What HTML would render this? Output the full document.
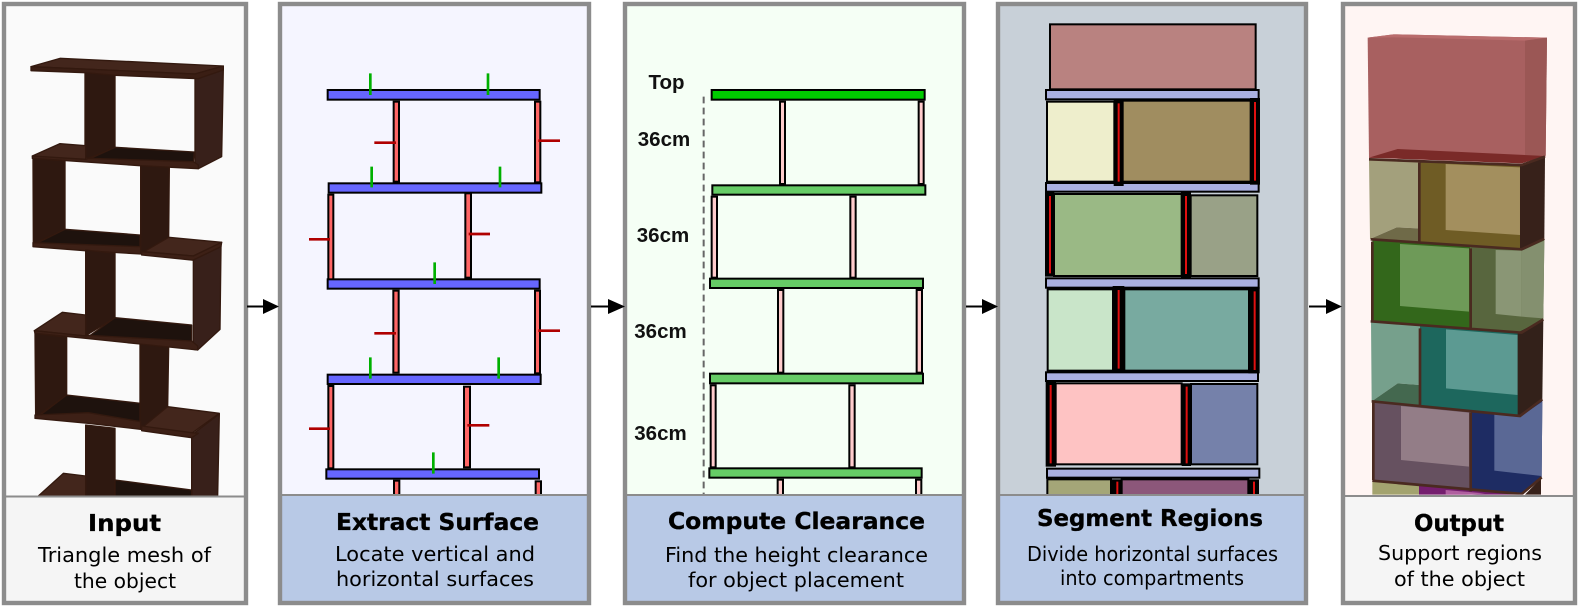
<!DOCTYPE html>
<html><head><meta charset="utf-8"><style>
html,body{margin:0;padding:0;background:#fff}
svg{display:block}
text{font-family:"DejaVu Sans","Liberation Sans",sans-serif;fill:#000}
.t{font-weight:bold;font-size:23.5px;stroke:#000;stroke-width:.35px}
.s{font-size:20px}
.l{font-family:"Liberation Sans",sans-serif;font-weight:bold;font-size:20.5px;fill:#111}
.p1 polygon{stroke:#33190f;stroke-width:4;stroke-linejoin:round}
</style></head><body>
<svg width="1578" height="608" viewBox="0 0 1578 608" xmlns="http://www.w3.org/2000/svg">
<defs>
<clipPath id="c5"><rect x="0" y="0" width="759" height="1484"/></clipPath>
</defs>
<!-- panel backgrounds -->
<rect x="2" y="2" width="246" height="495" fill="#fafafa"/>
<rect x="278" y="2" width="313" height="494" fill="#f5f5ff"/>
<rect x="623" y="2" width="343" height="494" fill="#f5fff5"/>
<rect x="996" y="2" width="312" height="494" fill="#c8d0d8"/>
<rect x="1341" y="2" width="236" height="495" fill="#fff5f3"/>

<!-- panel 1 shelf, upper -->
<g class="p1" transform="translate(25,50) scale(.33333)">
<polygon points="18,50 105,25 595,48 510,72" fill="#43261c"/>
<polygon points="180,68 270,75 270,292 190,325 180,322" fill="#2e1810"/>
<polygon points="510,80 595,55 590,320 520,356 510,350" fill="#38201a"/>
<polygon points="18,50 510,72 595,48 595,60 520,86 270,76 180,68 18,62" fill="#3a1e14"/>
<polygon points="270,292 508,306 505,340 190,328" fill="#1e120d"/>
<polygon points="22,318 105,281 182,287 182,330" fill="#43261c"/>
<polygon points="24,325 120,333 120,538 35,578 25,582" fill="#2e1810"/>
<polygon points="347,345 433,352 431,562 357,607 347,607" fill="#2e1810"/>
<polygon points="22,318 182,328 190,325 505,335 520,345 520,356 345,347 22,325" fill="#3d2016"/>
<polygon points="120,538 345,555 345,595 35,580" fill="#1e120d"/>
<polygon points="357,605 431,562 590,577 505,618" fill="#43261c"/>
<polygon points="24,578 347,590 347,612 180,602 24,590" fill="#3d2016"/>
<polygon points="350,605 505,618 590,577 588,590 520,632 350,615" fill="#3d2016"/>
</g>
<!-- panel 1 shelf, lower -->
<g class="p1" transform="translate(25,270) scale(.33333)">
<polygon points="182,-60 270,-50 270,143 190,192 182,196" fill="#2e1810"/>
<polygon points="505,-30 588,-70 585,178 518,240 505,238" fill="#38201a"/>
<polygon points="270,143 500,165 500,218 190,200" fill="#1e120d"/>
<polygon points="28,182 112,127 182,135 182,198" fill="#43261c"/>
<polygon points="30,190 125,202 125,375 45,432 32,440" fill="#2e1810"/>
<polygon points="345,220 431,232 428,410 355,472 345,475" fill="#2e1810"/>
<polygon points="28,182 182,198 190,196 500,213 518,228 518,240 345,222 182,205 30,190" fill="#3d2016"/>
<polygon points="125,375 345,400 345,455 190,432 45,436" fill="#1e120d"/>
<polygon points="355,470 428,410 583,430 500,490" fill="#43261c"/>
<polygon points="182,465 270,475 270,678 182,678" fill="#2e1810"/>
<polygon points="500,495 583,432 578,678 500,678" fill="#38201a"/>
<polygon points="30,435 190,428 347,455 347,478 190,460 30,445" fill="#3d2016"/>
<polygon points="350,468 500,488 520,490 500,503 350,482" fill="#3d2016"/>
<polygon points="270,630 500,660 500,678 270,678" fill="#1e120d"/>
<polygon points="40,678 115,610 182,618 182,678" fill="#43261c"/>
</g>

<!-- panel 2 -->
<g transform="translate(270,50) scale(.33333)" stroke="#000" stroke-width="6">
<g fill="#ff6666">
<rect x="371" y="155" width="16" height="240"/><rect x="795" y="155" width="16" height="242"/>
<rect x="175" y="434" width="15" height="258"/><rect x="586" y="430" width="17" height="253"/>
<rect x="370" y="722" width="16" height="246"/><rect x="795" y="722" width="15" height="248"/>
<rect x="175" y="1008" width="15" height="247"/><rect x="582" y="1010" width="18" height="242"/>
<rect x="372" y="1292" width="16" height="60"/><rect x="797" y="1294" width="16" height="60"/>
</g>
<g fill="#6666ff">
<rect x="173" y="120" width="636" height="29"/><rect x="176" y="400" width="638" height="28"/>
<rect x="173" y="688" width="636" height="28"/><rect x="173" y="974" width="639" height="28"/>
<rect x="169" y="1258" width="638" height="28"/>
</g>
<g stroke="#00b000" stroke-width="8" fill="none">
<path d="M301 70V135M654 70V135M305 350V412M690 350V412M494 637V702M301 922V986M686 922V986M490 1207V1271"/>
</g>
<g stroke="#b00000" stroke-width="8" fill="none">
<path d="M313 278H378M805 272H870M117 568H180M596 552H660M313 850H378M805 842H870M117 1136H180M592 1126H658"/>
</g>
</g>

<!-- panel 3 -->
<g transform="translate(610,50) scale(.33333)" stroke="#000" stroke-width="6">
<path d="M281 140V1340" stroke="#666" stroke-width="6" stroke-dasharray="20 13" fill="none"/>
<g fill="#ffcccc">
<rect x="510" y="155" width="15" height="247"/><rect x="926" y="155" width="15" height="247"/>
<rect x="305" y="440" width="16" height="243"/><rect x="721" y="440" width="16" height="243"/>
<rect x="504" y="720" width="16" height="248"/><rect x="920" y="720" width="16" height="248"/>
<rect x="302" y="1006" width="15" height="246"/><rect x="718" y="1006" width="16" height="246"/>
<rect x="503" y="1289" width="16" height="60"/><rect x="918" y="1289" width="16" height="60"/>
</g>
<rect x="305" y="120" width="639" height="29" fill="#00cc00"/>
<g fill="#66cc66">
<rect x="307" y="406" width="639" height="28"/><rect x="300" y="686" width="639" height="28"/>
<rect x="300" y="971" width="639" height="29"/><rect x="298" y="1255" width="637" height="28"/>
</g>
</g>
<text class="l" x="666.500" y="89" text-anchor="middle">Top</text>
<text class="l" x="664" y="146" text-anchor="middle">36cm</text>
<text class="l" x="663" y="242" text-anchor="middle">36cm</text>
<text class="l" x="660.500" y="338" text-anchor="middle">36cm</text>
<text class="l" x="660.500" y="440" text-anchor="middle">36cm</text>

<!-- panel 4 -->
<g transform="translate(985,0) scale(.33333)" stroke="#000" stroke-width="6">
<rect x="195" y="73" width="617" height="195" fill="#b98280"/>
<rect x="186" y="305" width="202" height="240" fill="#eeeecc"/><rect x="412" y="302" width="385" height="243" fill="#a08d60"/>
<rect x="207" y="582" width="383" height="246" fill="#9ab985"/><rect x="617" y="586" width="200" height="242" fill="#99a187"/>
<rect x="188" y="868" width="196" height="244" fill="#c9e5c9"/><rect x="418" y="868" width="374" height="244" fill="#78aaa0"/>
<rect x="212" y="1150" width="378" height="243" fill="#fec3c3"/><rect x="618" y="1152" width="199" height="241" fill="#7581aa"/>
<rect x="187" y="1438" width="191" height="70" fill="#a4a678"/><rect x="410" y="1438" width="380" height="70" fill="#8c577a"/>
<g fill="#aab0e0">
<rect x="183" y="270" width="638" height="28"/><rect x="183" y="549" width="638" height="26"/>
<rect x="183" y="835" width="638" height="28"/><rect x="183" y="1117" width="636" height="26"/>
<rect x="186" y="1406" width="637" height="27"/>
</g>
<g stroke="none" fill="#000">
<rect x="386" y="298" width="30" height="260"/><rect x="795" y="294" width="30" height="260"/>
<rect x="180" y="576" width="28" height="254"/><rect x="588" y="575" width="30" height="258"/>
<rect x="383" y="858" width="35" height="260"/><rect x="790" y="862" width="34" height="258"/>
<rect x="182" y="1142" width="31" height="258"/><rect x="590" y="1150" width="28" height="248"/>
<rect x="378" y="1438" width="32" height="70"/><rect x="790" y="1438" width="32" height="70"/>
</g>
<g stroke="#e01010" stroke-width="6" fill="none">
<path d="M401 310V545M810 306V542M195 588V820M603 588V822M401 870V1106M809 874V1110M197 1155V1390M605 1160V1390M397 1445V1490M807 1445V1490"/>
</g>
</g>

<!-- panel 5 -->
<g transform="translate(1325,0) scale(.33333)" clip-path="url(#c5)">
<polygon points="128,113 205,103 666,113 662,470 132,475" fill="#a86060"/>
<polygon points="128,113 205,103 666,113 600,122 205,112" fill="#b96c6c"/>
<polygon points="600,122 666,113 662,466 600,470" fill="#9b5755"/>
<polygon points="132,473 218,447 662,468 590,490" fill="#7a2a28"/>
<polygon points="132,478 280,484 280,685 215,682 135,717" fill="#a3a07c"/>
<polygon points="135,717 215,682 280,685 280,726" fill="#6f6a48"/>
<polygon points="285,484 590,494 590,750 285,730" fill="#6f5c25"/>
<polygon points="362,492 585,502 585,705 362,690" fill="#a38f5e"/>
<polygon points="585,494 660,472 658,715 590,750 585,750" fill="#37211a"/>
<polygon points="142,718 437,738 437,986 142,964" fill="#33671b"/>
<polygon points="225,732 432,745 432,935 225,918" fill="#6e9a58"/>
<polygon points="437,738 590,748 658,716 655,958 590,998 437,986" fill="#58663e"/>
<polygon points="512,750 590,752 590,950 512,942" fill="#8a9675"/>
<polygon points="590,752 658,722 655,955 590,950" fill="#84906f"/>
<polygon points="138,964 285,976 285,1155 218,1150 140,1204" fill="#76a08c"/>
<polygon points="140,1204 218,1150 285,1155 285,1220" fill="#44684f"/>
<polygon points="285,976 585,998 585,1248 285,1220" fill="#1d675d"/>
<polygon points="363,988 578,1005 578,1185 363,1165" fill="#5c9a92"/>
<polygon points="578,998 655,958 652,1198 582,1250 578,1250" fill="#33211a"/>
<polygon points="145,1204 437,1233 437,1474 145,1442" fill="#665160"/>
<polygon points="228,1218 432,1238 432,1400 228,1380" fill="#937d87"/>
<polygon points="437,1233 585,1248 652,1198 650,1432 590,1484 437,1474" fill="#1e2c63"/>
<polygon points="508,1240 585,1250 652,1205 650,1428 508,1412" fill="#5a6895"/>
<polygon points="142,1442 282,1455 282,1490 142,1490" fill="#a3a36f"/>
<polygon points="282,1455 600,1484 282,1490" fill="#741e6e"/>
<polygon points="362,1470 480,1480 362,1490" fill="#b05fa0"/>
<polygon points="600,1484 648,1435 648,1490 600,1490" fill="#37211a"/>
<g fill="none" stroke="#4a2a20" stroke-width="8">
<path d="M132,478 L590,495 L660,470M283,487V725M137,718 L590,748 L658,716M142,725V962M437,745V985M137,964 L590,998 L655,958M285,985V1218M140,1204 L585,1248 L652,1198M145,1208V1440M437,1238V1474M142,1442 L590,1482 L650,1432"/>
</g>
</g>

<!-- caption backgrounds -->
<rect x="2" y="496" width="246" height="108" fill="#f5f5f5"/>
<rect x="278" y="495" width="313" height="109" fill="#b8c9e6"/>
<rect x="623" y="495" width="343" height="109" fill="#b8c9e6"/>
<rect x="996" y="495" width="312" height="109" fill="#b8c9e6"/>
<rect x="1341" y="496" width="236" height="108" fill="#f5f5f5"/>

<!-- panel borders -->
<g fill="none" stroke="#8c8c8c" stroke-width="4.400">
<rect x="4" y="4" width="242" height="599"/>
<rect x="280" y="4" width="309" height="599"/>
<rect x="625" y="4" width="339" height="599"/>
<rect x="998" y="4" width="308" height="599"/>
<rect x="1343" y="4" width="232" height="599"/>
</g>
<g stroke="#8c8c8c" stroke-width="2">
<path d="M6 496.500H244M282 495H587M627 495H962M1000 495H1304M1345 496H1573"/>
</g>

<!-- arrows -->
<g stroke="#000" stroke-width="2" fill="#000">
<path d="M247 306.500H264M591 306.500H608M966 306.500H982M1309 306.500H1326" fill="none"/>
<g stroke="none">
<polygon points="263,299 279,306.500 263,314"/>
<polygon points="608,299 625,306.500 608,314"/>
<polygon points="982,299 998,306.500 982,314"/>
<polygon points="1326,299 1342,306.500 1326,314"/>
</g>
</g>

<!-- captions -->
<text class="t" x="88" y="531" textLength="73" lengthAdjust="spacingAndGlyphs">Input</text>
<text class="s" x="38" y="562" textLength="173" lengthAdjust="spacingAndGlyphs">Triangle mesh of</text>
<text class="s" x="74" y="588" textLength="102" lengthAdjust="spacingAndGlyphs">the object</text>

<text class="t" x="336" y="530" textLength="203" lengthAdjust="spacingAndGlyphs">Extract Surface</text>
<text class="s" x="335" y="561" textLength="200" lengthAdjust="spacingAndGlyphs">Locate vertical and</text>
<text class="s" x="336" y="586" textLength="198" lengthAdjust="spacingAndGlyphs">horizontal surfaces</text>

<text class="t" x="668" y="529" textLength="257" lengthAdjust="spacingAndGlyphs">Compute Clearance</text>
<text class="s" x="665" y="562" textLength="263" lengthAdjust="spacingAndGlyphs">Find the height clearance</text>
<text class="s" x="688" y="587" textLength="216" lengthAdjust="spacingAndGlyphs">for object placement</text>

<text class="t" x="1037" y="526" textLength="226" lengthAdjust="spacingAndGlyphs">Segment Regions</text>
<text class="s" x="1027" y="561" textLength="251" lengthAdjust="spacingAndGlyphs">Divide horizontal surfaces</text>
<text class="s" x="1060" y="585" textLength="184" lengthAdjust="spacingAndGlyphs">into compartments</text>

<text class="t" x="1414" y="531" textLength="90" lengthAdjust="spacingAndGlyphs">Output</text>
<text class="s" x="1378" y="560" textLength="164" lengthAdjust="spacingAndGlyphs">Support regions</text>
<text class="s" x="1394" y="586" textLength="131" lengthAdjust="spacingAndGlyphs">of the object</text>
</svg>
</body></html>
